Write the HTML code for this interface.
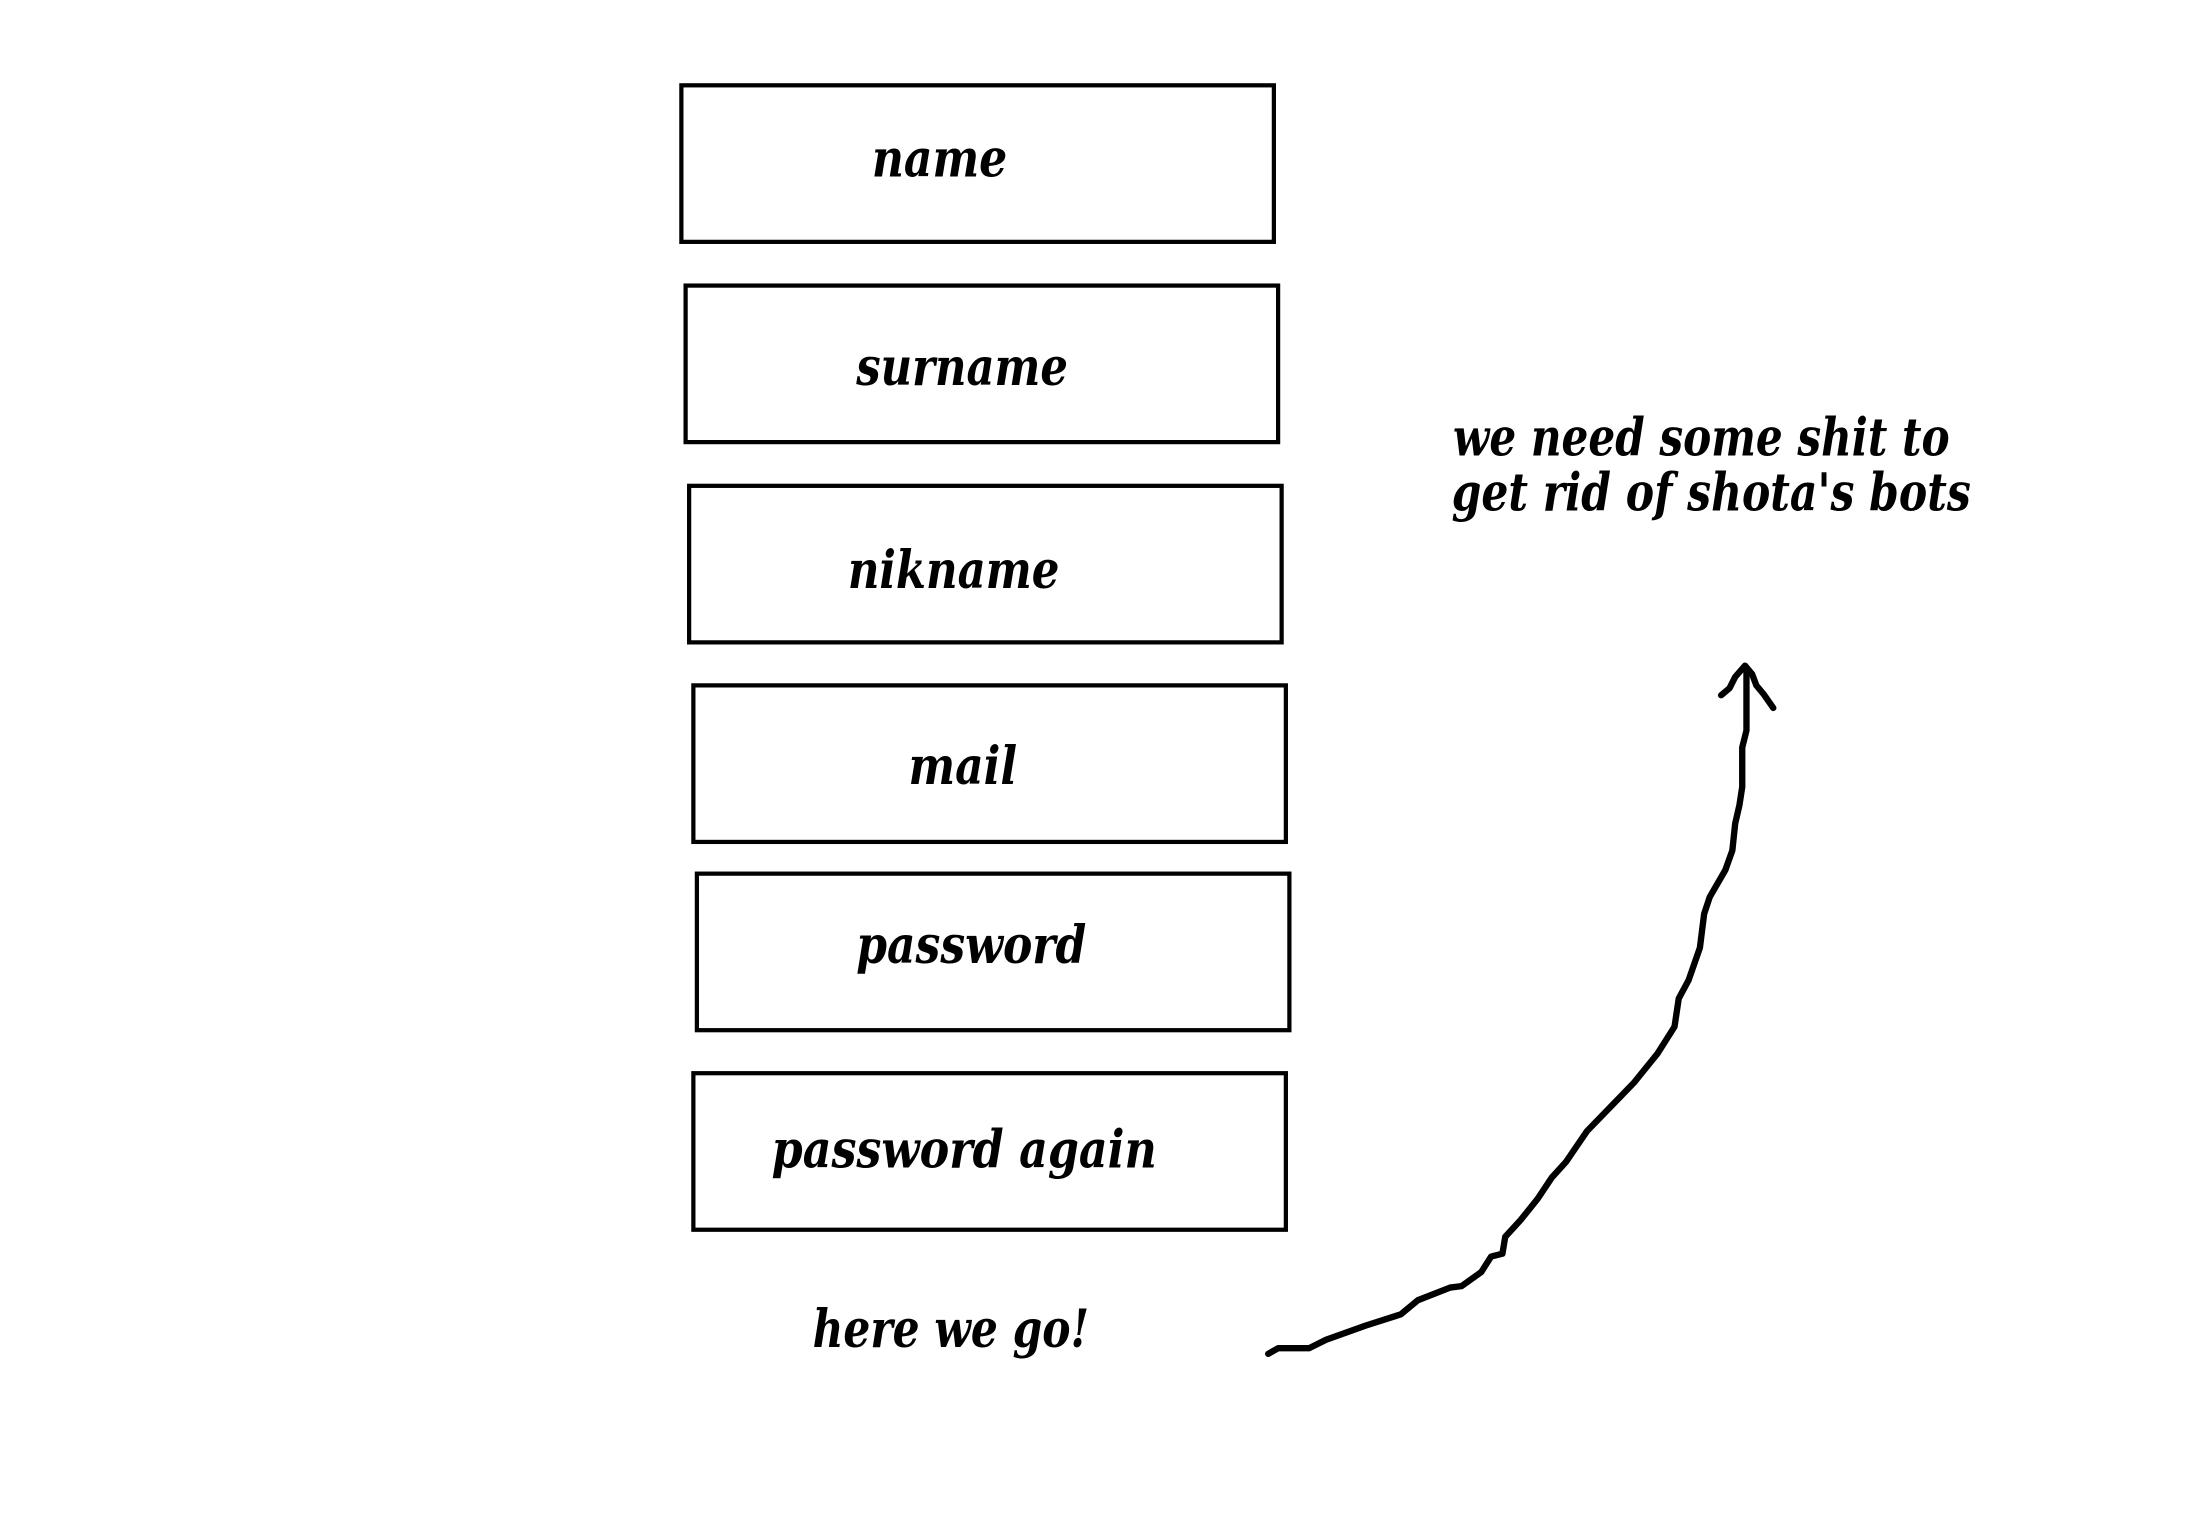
<!DOCTYPE html>
<html><head><meta charset="utf-8"><style>
html,body{margin:0;padding:0;background:#fff;}
svg{display:block;}
text{font-family:"DejaVu Serif","Liberation Serif",serif;font-style:italic;font-weight:bold;font-size:37px;fill:#000;}
</style></head><body>
<svg width="2212" height="1540" viewBox="0 0 1568 1092" preserveAspectRatio="none" xmlns="http://www.w3.org/2000/svg">
<g fill="none" stroke="#000" stroke-width="3">
<rect x="483" y="60.5" width="420" height="111"/>
<rect x="486" y="202.5" width="420" height="111"/>
<rect x="488.5" y="344.5" width="420" height="111"/>
<rect x="491.5" y="486" width="420" height="111"/>
<rect x="494" y="619.5" width="420" height="111"/>
<rect x="491.5" y="761" width="420" height="111"/>
</g>
<g transform="translate(0,2)">
<text x="618" y="123" textLength="96" lengthAdjust="spacingAndGlyphs">name</text>
<text x="607" y="271" textLength="150" lengthAdjust="spacingAndGlyphs">surname</text>
<text x="601" y="415" textLength="150" lengthAdjust="spacingAndGlyphs">nikname</text>
<text x="644" y="554" textLength="77" lengthAdjust="spacingAndGlyphs">mail</text>
<text x="607" y="681" textLength="163" lengthAdjust="spacingAndGlyphs">password</text>
<text x="547" y="826" textLength="273" lengthAdjust="spacingAndGlyphs">password again</text>
<text x="576" y="953" textLength="196" lengthAdjust="spacingAndGlyphs">here we go!</text>
<text x="1030" y="321" textLength="352" lengthAdjust="spacingAndGlyphs">we need some shit to</text>
<text x="1029" y="360" textLength="368" lengthAdjust="spacingAndGlyphs">get rid of shota's bots</text>
</g>
<g fill="none" stroke="#000" stroke-width="4.5" stroke-linecap="round" stroke-linejoin="round">
<polyline points="899,960 906,956 928,956 940,950 968,940 993,932 1005,922 1028,913 1036,912 1050,902 1057,891 1065,889 1067,877 1078,865 1090,850 1100,835 1110,824 1125,802 1158,768 1175,747 1187,728 1190,708 1197,695 1205,672 1208,648 1212,636 1223,617 1228,603 1230,584 1233,571 1235,558 1235,530 1238,518 1238,474"/>
<polyline points="1220,493 1226,488 1230,480 1237,472 1242,478 1245,486 1250,492 1257,502"/>
</g>
</svg>
</body></html>
